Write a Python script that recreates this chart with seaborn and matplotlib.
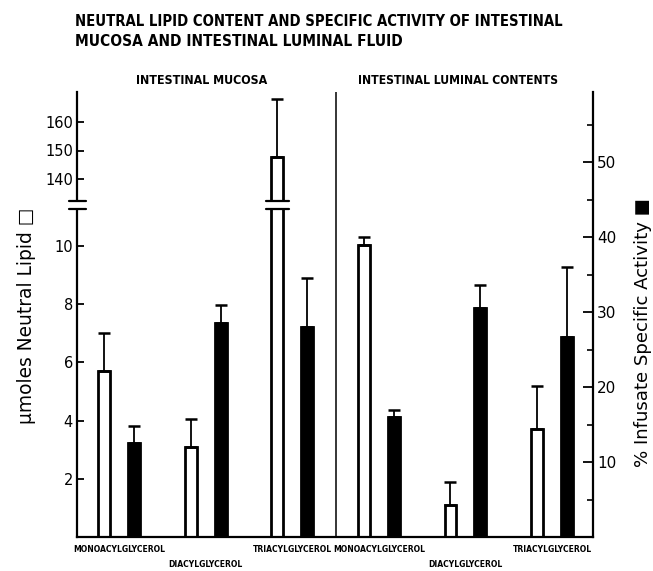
import os
import matplotlib
matplotlib.use("Agg")
import numpy as np
import pandas as pd
import seaborn as sns
import matplotlib.pyplot as plt
from matplotlib import font_manager as fm
from matplotlib.patches import Rectangle
from matplotlib.lines import Line2D
import matplotlib.transforms as mtrans

# ---------------- data ----------------
groups = ["Mucosa MAG", "Mucosa DAG", "Mucosa TAG", "Lumen MAG", "Lumen DAG", "Lumen TAG"]
category_labels = ["MONOACYLGLYCEROL", "DIACYLGLYCEROL", "TRIACYLGLYCEROL",
                   "MONOACYLGLYCEROL", "DIACYLGLYCEROL", "TRIACYLGLYCEROL"]
lipid_mean = [5.7, 3.1, 147.8, 10.05, 1.1, 3.7]        # umoles neutral lipid (open bars)
lipid_sem = [1.3, 0.95, 20.2, 0.25, 0.8, 1.5]
activity_mean = [12.6, 28.6, 28.0, 16.0, 30.5, 26.7]   # % infusate specific activity (filled bars)
activity_sem = [2.2, 2.3, 6.5, 1.0, 3.1, 9.3]
left_ticks = [2, 4, 6, 8, 10, 140, 150, 160]
right_major = [10, 20, 30, 40, 50]
right_minor = [5, 15, 25, 35, 45, 55]
section_titles = ["INTESTINAL MUCOSA", "INTESTINAL LUMINAL CONTENTS"]
title_lines = ["NEUTRAL LIPID CONTENT AND SPECIFIC ACTIVITY OF INTESTINAL",
               "MUCOSA AND INTESTINAL LUMINAL FLUID"]
left_label = "\u03bcmoles Neutral Lipid \u25a1"
right_label = "% Infusate Specific Activity \u25a0"

# ---------------- fonts ----------------
def find_condensed_bold():
    files = {}
    for f in fm.fontManager.ttflist:
        files[os.path.basename(f.fname).lower().replace(" ", "").replace("_", "")] = f.fname
    prefs = ["liberationsansnarrow-bold.", "dejavusanscondensed-bold.", "opensans-condbold",
             "opensanscondensed-bold", "robotocondensed-bold.", "notosanscondensed-bold.",
             "notosans-condensedbold."]
    for p in prefs:
        for k, v in files.items():
            if k.startswith(p):
                return v
    for k, v in files.items():
        if ("narrow" in k or "cond" in k) and "bold" in k and "italic" not in k and "oblique" not in k:
            return v
    return None

COND = find_condensed_bold()

def bold_fp(size):
    if COND:
        return fm.FontProperties(fname=COND, size=size)
    return fm.FontProperties(family="DejaVu Sans", weight="bold", size=size)

# ---------------- figure ----------------
sns.set_theme(style="white")
plt.rcParams["font.family"] = ["DejaVu Sans"]
plt.rcParams["text.color"] = "black"
plt.rcParams["axes.labelcolor"] = "black"
plt.rcParams["xtick.color"] = "black"
plt.rcParams["ytick.color"] = "black"
W, H = 653, 571
AX_L, AX_R, AX_B, AX_T = 77, 593, 537, 92
fig = plt.figure(figsize=(W / 100, H / 100), dpi=100)
ax = fig.add_axes([AX_L / W, 1 - AX_B / H, (AX_R - AX_L) / W, (AX_B - AX_T) / H])
ax2 = ax.twinx()

BAR_WIDTH = 0.69
GAP = 0.6
palette = {"open": "white", "filled": "black"}
df_lipid = pd.DataFrame({"group": groups, "value": lipid_mean, "kind": "open"})
df_act = pd.DataFrame({"group": groups, "value": activity_mean, "kind": "filled"})

common = dict(x="group", y="value", hue="kind", order=groups, hue_order=["open", "filled"],
              palette=palette, width=BAR_WIDTH, gap=GAP, dodge=True, saturation=1,
              edgecolor="black", linewidth=2.0, errorbar=None, legend=False)
sns.barplot(data=df_lipid, ax=ax, **common)
sns.barplot(data=df_act, ax=ax2, **common)

offs = BAR_WIDTH / 4
x_pos = np.arange(len(groups))
ax.errorbar(x_pos - offs, lipid_mean, yerr=[np.zeros(len(groups)), lipid_sem], fmt="none",
            ecolor="black", elinewidth=1.3, capsize=4.5, capthick=1.8)
ax2.errorbar(x_pos + offs, activity_mean, yerr=[np.zeros(len(groups)), activity_sem], fmt="none",
             ecolor="black", elinewidth=1.3, capsize=4.5, capthick=1.8)

# ---------------- broken left scale ----------------
LOW_PX = 29.1
BREAK_T = 332.0
UP_PX = 2.85
UP_REF, UP_REF_T = 140.0, 358.0
V_LOW = BREAK_T / LOW_PX
V_UP = UP_REF - (UP_REF_T - BREAK_T) / UP_PX

def fwd(v):
    v = np.asarray(v, dtype=float)
    return np.where(v <= V_LOW, v * LOW_PX,
                    np.where(v >= V_UP, BREAK_T + (v - V_UP) * UP_PX, BREAK_T))

def inv(t):
    t = np.asarray(t, dtype=float)
    return np.where(t <= BREAK_T, t / LOW_PX, V_UP + (t - BREAK_T) / UP_PX)

ax.set_yscale("function", functions=(fwd, inv))
ax.set_ylim(0, float(inv(AX_B - AX_T)))
ax.set_yticks(left_ticks)
ax.set_yticklabels([str(t) for t in left_ticks])
ax.yaxis.set_minor_locator(matplotlib.ticker.NullLocator())

ax2.set_ylim(0, (AX_B - AX_T) / 7.5)
ax2.set_yticks(right_major)
ax2.set_yticklabels([str(t) for t in right_major])
ax2.set_yticks(right_minor, minor=True)

ax.set_xlim(-0.485, 5.473)
ax.set_xticks(x_pos)
ax.set_xticklabels(category_labels)
ax.set_xlabel("")
ax.set_ylabel("")
ax2.set_ylabel("")

for a in (ax, ax2):
    for s in a.spines.values():
        s.set_color("black")
        s.set_linewidth(1.6)
ax.spines["top"].set_visible(False)
ax.spines["right"].set_visible(False)
for s in ("top", "left", "bottom"):
    ax2.spines[s].set_visible(False)

ax.tick_params(axis="y", which="major", direction="in", length=5, width=1.3, pad=3,
               labelsize=10.5, colors="black", left=True)
ax.tick_params(axis="x", length=0, pad=6, colors="black")
ax2.tick_params(axis="y", which="major", direction="in", length=7, width=1.3, pad=3,
                labelsize=11, colors="black", right=True)
ax2.tick_params(axis="y", which="minor", direction="in", length=4, width=1.2, right=True)
ax.grid(False)
ax2.grid(False)

# divider between mucosa and lumen
ax.axvline(2.5, color="black", lw=1.1, zorder=3)

# break marks
y0 = (BREAK_T - 3.8) / (AX_B - AX_T)
y1 = (BREAK_T + 3.8) / (AX_B - AX_T)
blend = mtrans.blended_transform_factory(ax.transData, ax.transAxes)
for (xa, xb, tr) in [(-0.016, 0.017, ax.transAxes),
                     (x_pos[2] - offs - 0.135, x_pos[2] - offs + 0.135, blend)]:
    ax.add_artist(Rectangle((xa, y0), xb - xa, y1 - y0, transform=tr, facecolor="white",
                            edgecolor="none", clip_on=False, zorder=5))
    for yy in (y0, y1):
        ax.add_artist(Line2D([xa, xb], [yy, yy], transform=tr, color="black", lw=1.6,
                             clip_on=False, zorder=6))

# ---------------- texts ----------------
def fx(x):
    return x / W

def fy(y):
    return 1 - y / H

t1 = fig.text(fx(75), fy(22), title_lines[0], fontproperties=bold_fp(13), ha="left", va="center",
              color="black")
t2 = fig.text(fx(75), fy(42), title_lines[1], fontproperties=bold_fp(13), ha="left", va="center",
              color="black")
s1 = fig.text(fx(202), fy(80), section_titles[0], fontproperties=bold_fp(10), ha="center",
              va="center", color="black")
s2 = fig.text(fx(458), fy(80), section_titles[1], fontproperties=bold_fp(10), ha="center",
              va="center", color="black")
yl = fig.text(fx(27), fy(316), left_label, rotation=90, ha="center", va="center", fontsize=12,
              family="DejaVu Sans", color="black")
yr = fig.text(fx(643), fy(333), right_label, rotation=90, ha="center", va="center", fontsize=12,
              family="DejaVu Sans", color="black")

cat_fp = bold_fp(7)
for lab in ax.get_xticklabels():
    lab.set_fontproperties(cat_fp)
    lab.set_color("black")

fig.canvas.draw()
r = fig.canvas.get_renderer()

def fit_w(t, target):
    bb = t.get_window_extent(r)
    t.set_fontsize(t.get_fontsize() * target / bb.width)

def fit_h(t, target):
    bb = t.get_window_extent(r)
    t.set_fontsize(t.get_fontsize() * target / bb.height)

fit_w(t1, 485)
fit_w(t2, 327)
fit_w(s1, 132)
fit_w(s2, 200)
fit_h(yl, 215)
fit_h(yr, 268)

labs = ax.get_xticklabels()
bb = labs[0].get_window_extent(r)
new_size = 7 * 92 / bb.width
for i, lab in enumerate(labs):
    lab.set_fontsize(new_size)
    if "DIACYL" in lab.get_text():
        lab.set_y(-15 / (AX_B - AX_T))

fig.savefig("out.png", dpi=100, facecolor="white")
